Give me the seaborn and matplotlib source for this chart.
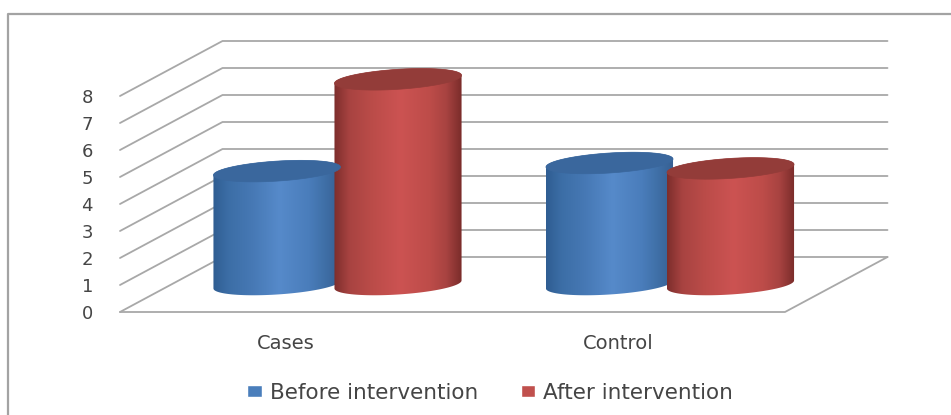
import numpy as np
import pandas as pd
import matplotlib
matplotlib.use("Agg")
import matplotlib.pyplot as plt
import seaborn as sns
from matplotlib.colors import LinearSegmentedColormap
from matplotlib.lines import Line2D
from matplotlib.patches import Polygon

groups = ["Cases", "Control"]
series_names = ["Before intervention", "After intervention"]
before_values = [4.2, 4.5]
after_values = [7.6, 4.3]
y_ticks = [0, 1, 2, 3, 4, 5, 6, 7, 8]

W, H = 951, 415
sns.set_theme(style="white")
plt.rcParams["font.family"] = ["DejaVu Sans"]

TEXT = "#454545"
GRID = "#a8a8a8"
SOLID = {"Before intervention": "#4a7ebb", "After intervention": "#c0504d"}
TOP = {"Before intervention": "#3a679d", "After intervention": "#933c39"}
STOPS = [0, 0.12, 0.3, 0.52, 0.75, 0.88, 1]
SHADES = {
    "Before intervention": ["#2f5d92", "#3c6ea6", "#4678b4", "#568aca", "#4a7dbb", "#3f6fa6", "#365f92"],
    "After intervention": ["#7d2e2c", "#a84341", "#bb4c49", "#cc5352", "#bd4c49", "#a84341", "#7a2c2a"],
}

table = pd.DataFrame({
    "group": groups * 2,
    "series": [series_names[0]] * 2 + [series_names[1]] * 2,
    "value": before_values + after_values,
})

fig = plt.figure(figsize=(W / 100, H / 100), dpi=100)
ax = fig.add_axes([120 / W, 1 - 312 / H, 665 / W, 216 / H])

sns.barplot(data=table, x="group", y="value", hue="series", order=groups,
            hue_order=series_names, palette=SOLID, saturation=1, width=0.728, ax=ax)
ax.set_xlim(-0.5, 1.5)
ax.set_ylim(0, 8)

# Pixel sizes of one data unit, and the oblique depth of the chart box
x_unit = 665 / 2
y_unit = 216 / 8
depth_x = 102.5 / x_unit
depth_y = 55 / y_unit

# Side wall, back wall and floor
x0, x1 = ax.get_xlim()
line_style = dict(color=GRID, lw=1.3, clip_on=False, zorder=1, solid_capstyle="round")
for tick in y_ticks:
    ax.plot([x0, x0 + depth_x, x1 + depth_x], [tick, tick + depth_y, tick + depth_y], **line_style)
ax.plot([x0, x1, x1 + depth_x], [0, 0, depth_y], **line_style)

# Each bar from the bar plot becomes a shaded cylinder standing mid-way on the floor
shade_order = series_names[0:1] * 2 + series_names[1:] * 2
bars = [p for p in ax.patches if p.get_height() > 0]
bars = sorted(bars, key=lambda p: (p.get_facecolor()[0] > 0.5, p.get_x()))
angles_low = np.linspace(np.pi, 2 * np.pi, 60)
angles_high = np.linspace(0, np.pi, 60)
angles_all = np.linspace(0, 2 * np.pi, 120)
tilt_px = 4.0
minor_px = 10.0

for bar, name in zip(bars, shade_order):
    cx = bar.get_x() + bar.get_width() / 2 + depth_x / 2
    half = bar.get_width() * 0.525
    base = depth_y / 2
    top = bar.get_height() + depth_y / 2

    def rim(level, angles):
        xs = cx + half * np.cos(angles)
        ys = level + (minor_px * np.sin(angles) + tilt_px * np.cos(angles)) / y_unit
        return np.column_stack([xs, ys])

    outline = np.vstack([rim(base, angles_low), rim(top, angles_high)])
    body = Polygon(outline, closed=True, facecolor="none", edgecolor="none",
                   transform=ax.transData)
    ax.add_patch(body)

    cmap = LinearSegmentedColormap.from_list(name, list(zip(STOPS, SHADES[name])))
    image = ax.imshow(np.linspace(0, 1, 256)[None, :], cmap=cmap, aspect="auto",
                      extent=(cx - half, cx + half, base - 1, top + 1),
                      zorder=3, interpolation="bilinear")
    image.set_clip_path(body)
    image.set_clip_box(fig.bbox)

    cap = Polygon(rim(top, angles_all), closed=True, facecolor=TOP[name],
                  edgecolor=TOP[name], lw=0.5, clip_on=False, zorder=3.1)
    ax.add_patch(cap)
    bar.set_visible(False)

ax.set_xlim(x0, x1)
ax.set_ylim(0, 8)

ax.set_xlabel("")
ax.set_ylabel("")
ax.set_yticks(y_ticks)
ax.tick_params(axis="y", length=0, pad=19.5, labelsize=13, labelcolor=TEXT)
ax.tick_params(axis="x", length=0, pad=16, labelsize=14, labelcolor=TEXT)
for spine in ax.spines.values():
    spine.set_visible(False)
ax.patch.set_alpha(0)

sns.move_legend(ax, "center left", bbox_to_anchor=(228 / W, 1 - 393 / H),
                bbox_transform=fig.transFigure, ncol=2, frameon=False, title=None,
                fontsize=15.5, labelcolor=TEXT, handlelength=0.66, handleheight=0.47,
                handletextpad=0.38, columnspacing=2.0)

# Outer frame, open towards the right and bottom of the canvas
frame_style = dict(color="#a3a3a3", lw=1.6, transform=fig.transFigure)
fig.add_artist(Line2D([7.5 / W, 7.5 / W, 1], [0, 1 - 14.5 / H, 1 - 14.5 / H], **frame_style))

fig.savefig("out.png", dpi=100, facecolor="white")
